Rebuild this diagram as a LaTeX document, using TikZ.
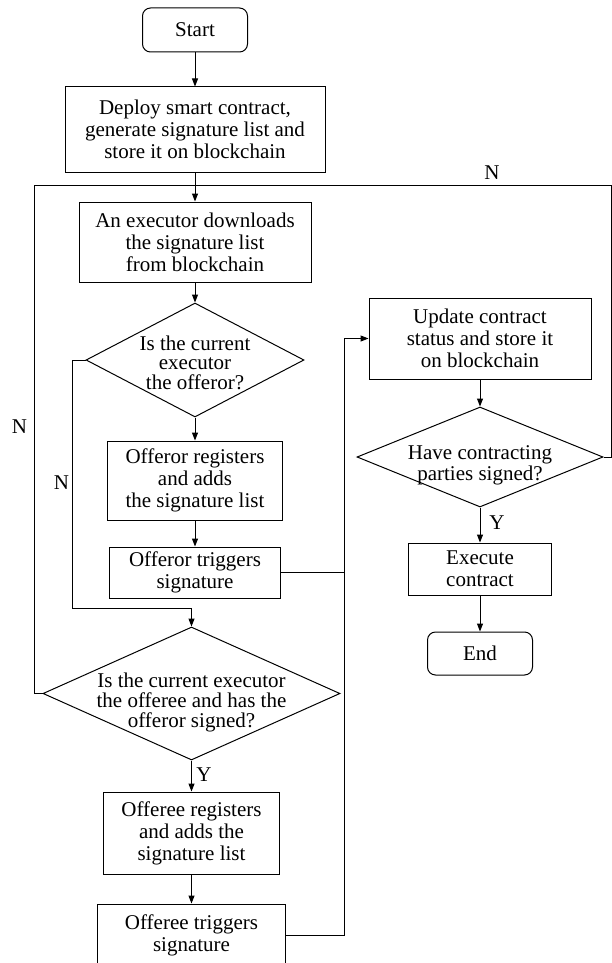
\documentclass[tikz,border=0pt]{standalone}
\usepackage{fontspec}
\setmainfont{Liberation Serif}
\usetikzlibrary{shapes.geometric, arrows.meta}

% text of a decision, moved down by #1, with no size of its own
\newcommand{\dtext}[2]{\makebox[0pt]{\raisebox{#1}[0pt][0pt]{\begin{tabular}{@{}c@{}}#2\end{tabular}}}}

\begin{document}
\begin{tikzpicture}[x=1pt, y=-1pt, line width=1pt,
        every node/.style={font=\fontsize{21}{22}\selectfont},
        box/.style={shape=rectangle, draw=black, align=center, inner sep=2pt},
        term/.style={box, rounded corners=8pt},
        dec/.style={shape=diamond, draw=black, inner sep=0pt, font=\fontsize{21}{19}\selectfont},
        arr/.style={-{Triangle[length=8pt, width=6pt]}}]
                \useasboundingbox (0,0) rectangle (612,963);

                \node[term, minimum width=105pt, minimum height=44pt] (A) at (195, 30) {Start};
                \node[box, minimum width=260pt, minimum height=85pt] (B) at (195, 129.5) {Deploy smart contract,\\generate signature list and\\store it on blockchain};
                \node[box, minimum width=232pt, minimum height=80pt] (C) at (195, 242) {An executor downloads\\the signature list\\from blockchain};
                \node[dec, minimum width=218pt, minimum height=114pt] (D) at (195, 360) {\dtext{-10.75pt}{Is the current\\executor\\the offeror?}};
                \node[box, minimum width=175pt, minimum height=79pt] (E) at (195, 480.5) {Offeror registers\\and adds\\the signature list};
                \node[box, minimum width=171pt, minimum height=51pt] (F) at (195, 572.5) {Offeror triggers\\signature};
                \node[dec, minimum width=297pt, minimum height=133pt] (G) at (191.5, 693.5) {\dtext{-14.75pt}{Is the current executor\\the offeree and has the\\offeror signed?}};
                \node[box, minimum width=176pt, minimum height=82pt] (H) at (191.5, 833) {Offeree registers\\and adds the\\signature list};
                \node[box, minimum width=188pt, minimum height=62pt] (I) at (191.5, 935) {Offeree triggers\\signature};
                \node[box, minimum width=222pt, minimum height=81pt] (J) at (480, 338.5) {Update contract\\status and store it\\on blockchain};
                \node[dec, font=\fontsize{21}{21}\selectfont, minimum width=246pt, minimum height=100pt] (K) at (480, 457) {\dtext{-13.5pt}{Have contracting\\parties signed?}};
                \node[box, minimum width=143pt, minimum height=52pt] (L) at (480, 569) {Execute\\contract};
                \node[term, minimum width=105pt, minimum height=43pt] (M) at (480, 653.5) {End};

                \coordinate (TL) at (34.5, 185);
                \coordinate (TR) at (611, 185);

                \path [arr] (A) edge (B);
                \path [arr] (B) edge (C);
                \path [arr] (C) edge (D);
                \path [arr] (D) edge (E);
                \path [arr] (E) edge (F);
                \path [arr] (G) edge (H);
                \path [arr] (H) edge (I);
                \path [arr] (J) edge (K);
                \path [arr] (K) edge (L);
                \path [arr] (L) edge (M);

                \draw [arr] (D.west) -- ++(-13, 0) |- ([yshift=18pt]G.north) -- (G.north);
                \draw [arr] (F.east) -| ([xshift=-24pt]J.west) -- (J.west);
                \draw (I.east) -| ([xshift=-24pt]J.west);
                \draw (G.west) -| (TL) -- (TR) |- (K.east);

                \node at (492, 173) {N};
                \node at (19.5, 427) {N};
                \node at (61.5, 483) {N};
                \node at (497, 523) {Y};
                \node at (204, 775) {Y};
            \end{tikzpicture}
\end{document}
